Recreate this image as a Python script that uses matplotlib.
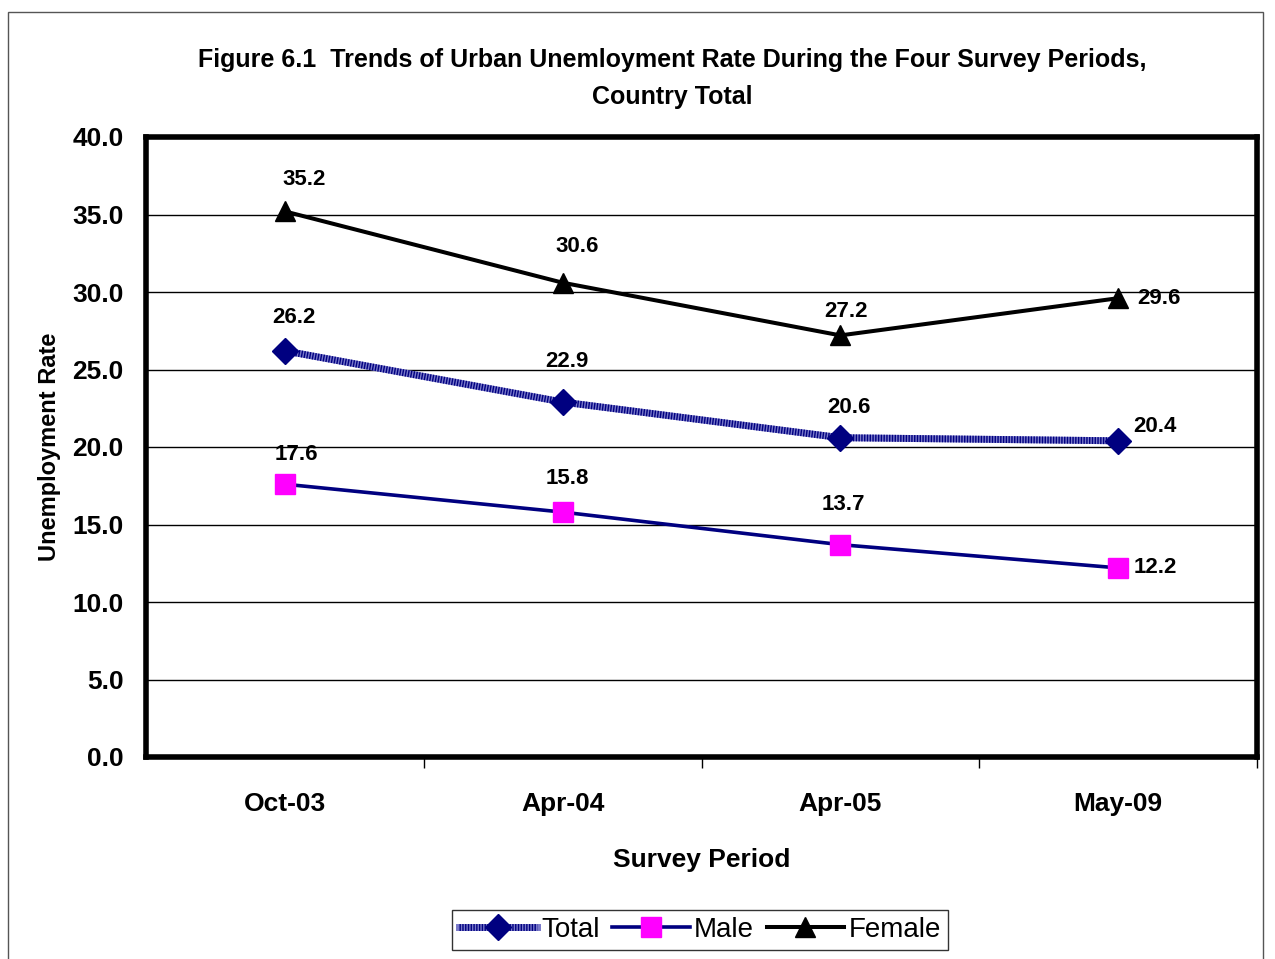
import matplotlib
matplotlib.use('Agg')
from matplotlib import pyplot as plt
from matplotlib.patches import Rectangle
from matplotlib.legend_handler import HandlerTuple

# Dados do gráfico
periods = ['Oct-03', 'Apr-04', 'Apr-05', 'May-09']
total = [26.2, 22.9, 20.6, 20.4]
male = [17.6, 15.8, 13.7, 12.2]
female = [35.2, 30.6, 27.2, 29.6]

# deslocamento (em pixels) dos rótulos de valor
off_total = [(9, 33), (4, 41), (9, 30), (37, 14)]
off_male = [(11, 30), (5, 34), (3, 40), (37, 0)]
off_female = [(19, 32), (14, 36), (6, 24), (41, 0)]

plt.rcParams['font.family'] = ['Liberation Sans Narrow', 'Liberation Sans', 'DejaVu Sans']

fig = plt.figure(figsize=(12.75, 9.59), dpi=100)
ax = fig.add_axes([146 / 1275, 1 - 757 / 959, 1111 / 1275, 620 / 959])

x = range(len(periods))

# linha "Total" listrada: base clara + traços azul-marinho
t1, = ax.plot(x, total, color='#7878c8', lw=5, zorder=3)
t2, = ax.plot(x, total, color='#000080', lw=5, dashes=(0.2, 0.2), zorder=3,
              marker='D', markersize=13, markerfacecolor='#000080', markeredgecolor='#000080')
m, = ax.plot(x, male, color='#000080', lw=2.6, zorder=4,
             marker='s', markersize=14, markerfacecolor='#ff00ff', markeredgecolor='#ff00ff')
f, = ax.plot(x, female, color='black', lw=2.9, zorder=4,
             marker='^', markersize=15, markerfacecolor='black', markeredgecolor='black')

for serie, offs in [(total, off_total), (male, off_male), (female, off_female)]:
    for i, v in enumerate(serie):
        ax.annotate(f'{v:.1f}', (i, v), xytext=offs[i], textcoords='offset pixels',
                    ha='center', va='center', fontsize=16, fontweight='bold')

ax.set_xlim(-0.5, len(periods) - 0.5)
ax.set_ylim(0, 40)
ax.set_yticks([0, 5, 10, 15, 20, 25, 30, 35, 40])
ax.set_yticklabels([f'{v:.1f}' for v in ax.get_yticks()], fontsize=19, fontweight='bold')
ax.set_xticks(list(x))
ax.set_xticklabels(periods, fontsize=19, fontweight='bold')
ax.tick_params(axis='x', length=0, pad=25)
ax.tick_params(axis='y', length=0, pad=16)
ax.set_xticks([0.5, 1.5, 2.5, 3.5], minor=True)
ax.tick_params(axis='x', which='minor', length=8, width=1, direction='out')
ax.yaxis.grid(True, color='black', lw=1)
ax.set_axisbelow(True)
for s in ax.spines.values():
    s.set_linewidth(4)

ax.set_ylabel('Unemployment Rate', fontsize=17, fontweight='bold', labelpad=8)
ax.set_xlabel('Survey Period', fontsize=19, fontweight='bold', labelpad=23)

fig.text(672 / 1275, 1 - 60 / 959, 'Figure 6.1  Trends of Urban Unemloyment Rate During the Four Survey Periods,',
         ha='center', va='center', fontsize=18, fontweight='bold')
fig.text(672 / 1275, 1 - 97 / 959, 'Country Total', ha='center', va='center', fontsize=18, fontweight='bold')

leg = fig.legend([(t1, t2), m, f], ['Total', 'Male', 'Female'],
                 handler_map={tuple: HandlerTuple(ndivide=1, pad=0)},
                 loc='center', bbox_to_anchor=(700 / 1275, 1 - 930 / 959), ncol=3,
                 fontsize=20, frameon=True, fancybox=False, edgecolor='black',
                 handlelength=2.8, handletextpad=0.15, columnspacing=0.45,
                 borderpad=0.25, borderaxespad=0, numpoints=1)
leg.get_frame().set_linewidth(1)

# moldura externa da figura
fig.patches.append(Rectangle((8 / 1275, -0.01), 1255 / 1275, 1 - 12 / 959 + 0.01,
                             transform=fig.transFigure, fill=False, edgecolor='#555555', lw=1))

fig.savefig('out.png', dpi=100)
